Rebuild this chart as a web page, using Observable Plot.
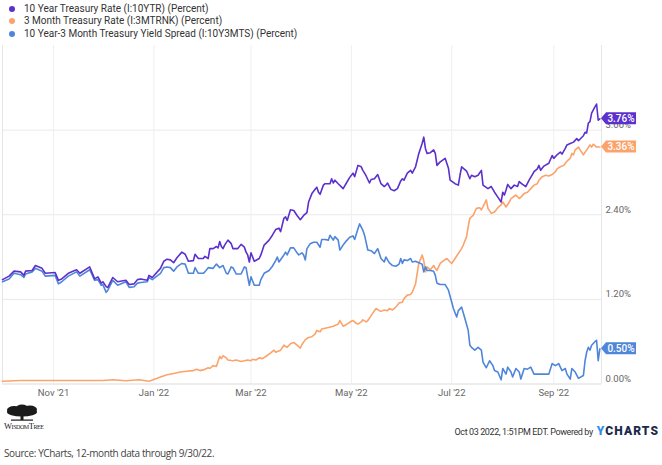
<!DOCTYPE html>
<html><head><meta charset="utf-8">
<script src="https://cdn.jsdelivr.net/npm/d3@7"></script>
<script src="https://cdn.jsdelivr.net/npm/@observablehq/plot@0.6"></script>
<style>
html,body{margin:0;padding:0;background:#fff;}
#wrap{position:relative;width:662px;height:465px;overflow:hidden;font-family:Roboto,sans-serif;}
#chart{position:absolute;left:0;top:0;}
#legend{position:absolute;left:0;top:0;}
.li{position:absolute;left:24px;font-size:10px;color:#333;white-space:nowrap;line-height:12px;}
.ld{position:absolute;left:9px;width:6px;height:6px;border-radius:50%;}
#stamp{position:absolute;right:3px;top:420px;white-space:nowrap;font-family:Roboto,sans-serif;color:#333;}
#stamp i{font-style:normal;font-size:9px;letter-spacing:-0.4px;}
#stamp b{font-family:Roboto,sans-serif;font-size:12px;letter-spacing:1.1px;color:#1c2a4a;font-weight:900;}
#stamp b span{color:#2e8cf0;}
#source{position:absolute;left:4px;top:446px;font-size:10px;color:#444;white-space:nowrap;font-family:'Open Sans',sans-serif;letter-spacing:-0.4px;}
#logo{position:absolute;left:3px;top:404px;}
</style></head><body>
<div id="wrap">
  <div id="chart"></div>
  <div id="legend"></div>
  <div id="logo"><svg width="46" height="28">
    <ellipse cx="19" cy="8" rx="15" ry="4.5" fill="#1b1b1b"/>
    <ellipse cx="11" cy="6" rx="7" ry="4" fill="#1b1b1b"/>
    <ellipse cx="27" cy="5.5" rx="7" ry="4" fill="#1b1b1b"/>
    <ellipse cx="19" cy="4" rx="6" ry="3.5" fill="#1b1b1b"/>
    <rect x="17.5" y="9" width="3" height="7" fill="#1b1b1b"/>
    <rect x="8" y="15.5" width="22" height="1.2" fill="#1b1b1b"/>
    <text x="1" y="25" font-family="'Liberation Serif',serif" font-size="8.5" fill="#222" textLength="40" style="font-variant:small-caps">WisdomTree</text>
  </svg></div>
  <div id="stamp"><i>Oct 03 2022, 1:51PM EDT. Powered by</i> <b><span>Y</span>CHARTS</b></div>
  <div id="source">Source: YCharts, 12-month data through 9/30/22.</div>
</div>
<script>
const seriesNames = ["10 Year Treasury Rate (I:10YTR) (Percent)", "3 Month Treasury Rate (I:3MTRNK) (Percent)", "10 Year-3 Month Treasury Yield Spread (I:10Y3MTS) (Percent)"];
const seriesColors = ["#5b30cc", "#fca36b", "#4f86da"];
const yTicks = [0, 1.2, 2.4, 3.6];
const xTicks = ["2021-11-01", "2022-01-01", "2022-03-01", "2022-05-01", "2022-07-01", "2022-09-01"];
const lastLabels = [3.76, 3.36, 0.50];

const tenYear = [["2021-10-01",1.48],["2021-10-05",1.53],["2021-10-08",1.60],["2021-10-12",1.59],["2021-10-14",1.54],["2021-10-15",1.60],["2021-10-19",1.61],["2021-10-21",1.68],["2021-10-25",1.64],["2021-10-27",1.57],["2021-11-02",1.58],["2021-11-04",1.47],["2021-11-06",1.49],["2021-11-10",1.57],["2021-11-15",1.62],["2021-11-17",1.57],["2021-11-23",1.66],["2021-11-26",1.49],["2021-11-28",1.52],["2021-11-30",1.43],["2021-12-01",1.45],["2021-12-03",1.38],["2021-12-04",1.37],["2021-12-07",1.51],["2021-12-10",1.45],["2021-12-15",1.47],["2021-12-17",1.41],["2021-12-20",1.42],["2021-12-22",1.48],["2021-12-24",1.49],["2021-12-28",1.47],["2021-12-29",1.54],["2021-12-31",1.51],["2022-01-05",1.64],["2022-01-07",1.74],["2022-01-09",1.77],["2022-01-11",1.76],["2022-01-13",1.72],["2022-01-15",1.79],["2022-01-18",1.87],["2022-01-20",1.84],["2022-01-22",1.74],["2022-01-25",1.75],["2022-01-26",1.84],["2022-01-28",1.78],["2022-01-31",1.78],["2022-02-01",1.81],["2022-02-03",1.78],["2022-02-04",1.92],["2022-02-06",1.92],["2022-02-08",1.95],["2022-02-09",1.93],["2022-02-10",2.02],["2022-02-11",1.95],["2022-02-12",1.92],["2022-02-13",1.97],["2022-02-15",2.04],["2022-02-17",1.99],["2022-02-18",1.92],["2022-02-21",1.92],["2022-02-23",1.98],["2022-02-25",1.94],["2022-02-26",1.87],["2022-02-27",1.83],["2022-02-28",1.73],["2022-03-01",1.86],["2022-03-03",1.74],["2022-03-06",1.78],["2022-03-07",1.83],["2022-03-09",1.97],["2022-03-12",2.04],["2022-03-14",2.11],["2022-03-16",2.19],["2022-03-18",2.21],["2022-03-19",2.16],["2022-03-21",2.35],["2022-03-22",2.37],["2022-03-23",2.32],["2022-03-25",2.47],["2022-03-27",2.46],["2022-03-29",2.39],["2022-03-31",2.33],["2022-04-02",2.39],["2022-04-04",2.43],["2022-04-05",2.58],["2022-04-07",2.70],["2022-04-09",2.76],["2022-04-10",2.79],["2022-04-11",2.72],["2022-04-12",2.69],["2022-04-14",2.82],["2022-04-15",2.84],["2022-04-18",2.84],["2022-04-19",2.91],["2022-04-20",2.85],["2022-04-21",2.89],["2022-04-23",2.84],["2022-04-26",2.77],["2022-04-28",2.85],["2022-04-30",2.93],["2022-05-02",2.99],["2022-05-03",2.94],["2022-05-05",3.10],["2022-05-07",3.08],["2022-05-08",3.03],["2022-05-10",2.95],["2022-05-12",2.85],["2022-05-13",2.90],["2022-05-15",2.91],["2022-05-17",2.97],["2022-05-19",2.84],["2022-05-21",2.80],["2022-05-22",2.82],["2022-05-23",2.85],["2022-05-25",2.76],["2022-05-27",2.74],["2022-05-29",2.77],["2022-05-31",2.88],["2022-06-01",2.91],["2022-06-02",2.89],["2022-06-04",2.99],["2022-06-06",3.03],["2022-06-07",2.99],["2022-06-09",3.08],["2022-06-11",3.27],["2022-06-13",3.41],["2022-06-14",3.50],["2022-06-15",3.34],["2022-06-16",3.27],["2022-06-18",3.28],["2022-06-20",3.32],["2022-06-21",3.27],["2022-06-22",3.10],["2022-06-24",3.15],["2022-06-27",3.20],["2022-06-29",3.06],["2022-06-30",2.89],["2022-07-03",2.84],["2022-07-05",2.82],["2022-07-06",2.96],["2022-07-07",3.08],["2022-07-10",3.02],["2022-07-12",2.91],["2022-07-13",2.96],["2022-07-15",2.94],["2022-07-17",2.96],["2022-07-19",3.03],["2022-07-20",2.82],["2022-07-23",2.77],["2022-07-25",2.80],["2022-07-27",2.72],["2022-07-29",2.65],["2022-07-31",2.58],["2022-08-01",2.72],["2022-08-02",2.68],["2022-08-03",2.75],["2022-08-04",2.83],["2022-08-06",2.77],["2022-08-08",2.82],["2022-08-10",2.80],["2022-08-11",2.87],["2022-08-13",2.83],["2022-08-15",2.80],["2022-08-17",2.89],["2022-08-19",2.97],["2022-08-20",3.01],["2022-08-22",3.05],["2022-08-23",3.10],["2022-08-24",3.03],["2022-08-26",3.09],["2022-08-29",3.13],["2022-08-31",3.24],["2022-09-01",3.20],["2022-09-03",3.25],["2022-09-05",3.29],["2022-09-06",3.26],["2022-09-08",3.34],["2022-09-09",3.39],["2022-09-11",3.41],["2022-09-13",3.43],["2022-09-15",3.48],["2022-09-16",3.45],["2022-09-19",3.52],["2022-09-20",3.57],["2022-09-21",3.56],["2022-09-22",3.70],["2022-09-23",3.72],["2022-09-24",3.84],["2022-09-26",3.93],["2022-09-27",3.97],["2022-09-28",3.74],["2022-09-29",3.76]];

const threeMonth = [["2021-10-01",0.04],["2021-10-12",0.05],["2021-10-22",0.05],["2021-11-03",0.05],["2021-11-15",0.05],["2021-11-24",0.05],["2021-12-01",0.05],["2021-12-07",0.06],["2021-12-15",0.045],["2021-12-23",0.06],["2021-12-29",0.04],["2022-01-03",0.08],["2022-01-05",0.10],["2022-01-09",0.13],["2022-01-13",0.15],["2022-01-17",0.17],["2022-01-21",0.18],["2022-01-25",0.19],["2022-01-27",0.21],["2022-01-29",0.19],["2022-01-31",0.20],["2022-02-03",0.23],["2022-02-04",0.22],["2022-02-06",0.26],["2022-02-08",0.25],["2022-02-10",0.39],["2022-02-11",0.36],["2022-02-12",0.40],["2022-02-14",0.37],["2022-02-15",0.34],["2022-02-18",0.33],["2022-02-20",0.34],["2022-02-23",0.32],["2022-02-25",0.33],["2022-02-27",0.34],["2022-03-01",0.33],["2022-03-02",0.35],["2022-03-04",0.34],["2022-03-06",0.37],["2022-03-08",0.36],["2022-03-10",0.39],["2022-03-13",0.44],["2022-03-15",0.48],["2022-03-16",0.45],["2022-03-19",0.48],["2022-03-21",0.55],["2022-03-23",0.52],["2022-03-25",0.57],["2022-03-27",0.59],["2022-03-29",0.55],["2022-03-31",0.51],["2022-04-01",0.56],["2022-04-03",0.63],["2022-04-05",0.66],["2022-04-07",0.67],["2022-04-09",0.71],["2022-04-10",0.76],["2022-04-12",0.74],["2022-04-13",0.78],["2022-04-17",0.80],["2022-04-20",0.82],["2022-04-23",0.85],["2022-04-24",0.90],["2022-04-26",0.82],["2022-04-27",0.83],["2022-04-29",0.86],["2022-05-01",0.89],["2022-05-02",0.90],["2022-05-04",0.86],["2022-05-05",0.85],["2022-05-07",0.88],["2022-05-08",0.91],["2022-05-10",0.88],["2022-05-11",0.90],["2022-05-13",0.97],["2022-05-15",1.04],["2022-05-16",1.07],["2022-05-18",1.04],["2022-05-19",1.03],["2022-05-21",1.05],["2022-05-23",1.04],["2022-05-24",1.07],["2022-05-26",1.05],["2022-05-28",1.09],["2022-05-30",1.15],["2022-06-01",1.16],["2022-06-02",1.21],["2022-06-04",1.26],["2022-06-06",1.27],["2022-06-07",1.30],["2022-06-09",1.42],["2022-06-10",1.57],["2022-06-11",1.71],["2022-06-13",1.83],["2022-06-14",1.75],["2022-06-15",1.59],["2022-06-16",1.66],["2022-06-18",1.62],["2022-06-20",1.68],["2022-06-21",1.64],["2022-06-22",1.61],["2022-06-24",1.71],["2022-06-26",1.75],["2022-06-28",1.78],["2022-06-30",1.73],["2022-07-01",1.71],["2022-07-03",1.78],["2022-07-05",1.85],["2022-07-07",1.92],["2022-07-08",1.97],["2022-07-10",2.09],["2022-07-11",2.23],["2022-07-12",2.35],["2022-07-14",2.39],["2022-07-16",2.49],["2022-07-18",2.50],["2022-07-19",2.47],["2022-07-21",2.56],["2022-07-22",2.61],["2022-07-23",2.49],["2022-07-25",2.42],["2022-07-27",2.44],["2022-07-29",2.50],["2022-07-31",2.54],["2022-08-01",2.58],["2022-08-03",2.51],["2022-08-05",2.58],["2022-08-06",2.63],["2022-08-09",2.68],["2022-08-11",2.63],["2022-08-12",2.65],["2022-08-14",2.70],["2022-08-16",2.72],["2022-08-18",2.77],["2022-08-20",2.82],["2022-08-22",2.84],["2022-08-23",2.89],["2022-08-25",2.94],["2022-08-27",2.96],["2022-08-29",2.95],["2022-08-31",2.97],["2022-09-02",3.01],["2022-09-03",3.05],["2022-09-05",3.08],["2022-09-07",3.10],["2022-09-09",3.16],["2022-09-11",3.20],["2022-09-12",3.27],["2022-09-13",3.25],["2022-09-14",3.32],["2022-09-16",3.36],["2022-09-17",3.32],["2022-09-19",3.25],["2022-09-21",3.32],["2022-09-23",3.39],["2022-09-24",3.36],["2022-09-25",3.40],["2022-09-27",3.36],["2022-09-29",3.36]];

const spread = [["2021-10-01",1.45],["2021-10-05",1.49],["2021-10-08",1.57],["2021-10-12",1.55],["2021-10-14",1.51],["2021-10-15",1.56],["2021-10-19",1.59],["2021-10-21",1.64],["2021-10-25",1.60],["2021-10-27",1.53],["2021-11-02",1.54],["2021-11-04",1.42],["2021-11-06",1.45],["2021-11-10",1.53],["2021-11-15",1.59],["2021-11-17",1.53],["2021-11-23",1.62],["2021-11-26",1.47],["2021-11-28",1.48],["2021-11-30",1.40],["2021-12-01",1.41],["2021-12-03",1.30],["2021-12-04",1.33],["2021-12-07",1.47],["2021-12-10",1.40],["2021-12-15",1.45],["2021-12-17",1.37],["2021-12-20",1.38],["2021-12-22",1.43],["2021-12-24",1.44],["2021-12-28",1.45],["2021-12-29",1.51],["2021-12-31",1.48],["2022-01-05",1.57],["2022-01-07",1.65],["2022-01-09",1.66],["2022-01-11",1.65],["2022-01-13",1.60],["2022-01-15",1.66],["2022-01-18",1.71],["2022-01-20",1.70],["2022-01-22",1.57],["2022-01-25",1.57],["2022-01-26",1.65],["2022-01-28",1.57],["2022-01-31",1.57],["2022-02-01",1.59],["2022-02-03",1.65],["2022-02-06",1.64],["2022-02-08",1.70],["2022-02-10",1.65],["2022-02-12",1.68],["2022-02-14",1.57],["2022-02-15",1.56],["2022-02-17",1.66],["2022-02-18",1.65],["2022-02-20",1.56],["2022-02-23",1.56],["2022-02-25",1.66],["2022-02-26",1.65],["2022-02-27",1.52],["2022-02-28",1.40],["2022-03-01",1.52],["2022-03-03",1.40],["2022-03-06",1.40],["2022-03-07",1.48],["2022-03-09",1.57],["2022-03-12",1.61],["2022-03-14",1.67],["2022-03-16",1.75],["2022-03-17",1.80],["2022-03-18",1.73],["2022-03-21",1.83],["2022-03-22",1.87],["2022-03-23",1.83],["2022-03-25",1.93],["2022-03-27",1.93],["2022-03-29",1.86],["2022-03-30",1.83],["2022-04-01",1.86],["2022-04-02",1.83],["2022-04-03",1.76],["2022-04-04",1.92],["2022-04-06",1.99],["2022-04-08",2.01],["2022-04-10",2.01],["2022-04-12",1.94],["2022-04-13",2.05],["2022-04-15",2.05],["2022-04-17",2.04],["2022-04-18",2.11],["2022-04-20",2.04],["2022-04-21",2.09],["2022-04-23",2.04],["2022-04-24",1.90],["2022-04-26",1.97],["2022-04-28",2.03],["2022-04-30",2.08],["2022-05-02",2.10],["2022-05-03",2.05],["2022-05-05",2.20],["2022-05-06",2.27],["2022-05-08",2.18],["2022-05-09",2.11],["2022-05-11",1.90],["2022-05-13",1.89],["2022-05-15",1.85],["2022-05-17",1.92],["2022-05-19",1.78],["2022-05-21",1.73],["2022-05-22",1.80],["2022-05-24",1.72],["2022-05-26",1.68],["2022-05-28",1.67],["2022-05-30",1.70],["2022-05-31",1.78],["2022-06-01",1.71],["2022-06-02",1.76],["2022-06-04",1.75],["2022-06-06",1.78],["2022-06-07",1.73],["2022-06-09",1.74],["2022-06-11",1.72],["2022-06-13",1.70],["2022-06-14",1.59],["2022-06-15",1.66],["2022-06-16",1.61],["2022-06-18",1.61],["2022-06-20",1.60],["2022-06-21",1.54],["2022-06-22",1.43],["2022-06-24",1.41],["2022-06-27",1.41],["2022-06-29",1.33],["2022-07-01",1.16],["2022-07-02",1.07],["2022-07-04",0.95],["2022-07-05",1.04],["2022-07-07",1.09],["2022-07-09",0.93],["2022-07-11",0.76],["2022-07-12",0.55],["2022-07-13",0.52],["2022-07-15",0.48],["2022-07-17",0.52],["2022-07-19",0.48],["2022-07-20",0.31],["2022-07-22",0.23],["2022-07-24",0.33],["2022-07-26",0.26],["2022-07-27",0.19],["2022-07-29",0.17],["2022-07-31",0.06],["2022-08-01",0.22],["2022-08-03",0.14],["2022-08-04",0.24],["2022-08-06",0.17],["2022-08-07",0.10],["2022-08-09",0.22],["2022-08-11",0.17],["2022-08-12",0.07],["2022-08-14",0.22],["2022-08-16",0.21],["2022-08-18",0.24],["2022-08-20",0.14],["2022-08-23",0.14],["2022-08-27",0.14],["2022-08-29",0.14],["2022-08-31",0.29],["2022-09-02",0.26],["2022-09-04",0.29],["2022-09-06",0.19],["2022-09-08",0.22],["2022-09-09",0.14],["2022-09-11",0.07],["2022-09-12",0.22],["2022-09-14",0.17],["2022-09-16",0.08],["2022-09-19",0.12],["2022-09-20",0.33],["2022-09-21",0.45],["2022-09-22",0.52],["2022-09-23",0.48],["2022-09-24",0.55],["2022-09-26",0.60],["2022-09-27",0.62],["2022-09-28",0.33],["2022-09-29",0.50]];

const parse = d3.utcParse("%Y-%m-%d");
const rows = (arr, i) => arr.map(([d, v]) => ({date: parse(d), value: v, s: i}));

// legend
const legend = document.getElementById("legend");
const legendY = [3, 15, 28];
seriesNames.forEach((n, i) => {
  const dot = document.createElement("div");
  dot.className = "ld"; dot.style.top = (legendY[i] + 3) + "px"; dot.style.background = seriesColors[i];
  const t = document.createElement("div");
  t.className = "li"; t.style.top = legendY[i] + "px"; t.textContent = n;
  legend.appendChild(dot); legend.appendChild(t);
});

const xDomain = [parse("2021-10-01"), parse("2022-09-30")];
const chart = Plot.plot({
  width: 662, height: 465,
  marginLeft: 2, marginRight: 61, marginTop: 45, marginBottom: 81.5,
  style: {fontFamily: "Roboto, sans-serif", fontSize: "9.5px", color: "#666", background: "transparent", overflow: "visible"},
  x: {type: "utc", domain: xDomain},
  y: {domain: [0, 4.8], label: null},
  marks: [
    Plot.gridY(yTicks, {stroke: "#e9e9e9", strokeOpacity: 1}),
    Plot.gridX(xTicks.map(parse), {stroke: "#efefef", strokeOpacity: 1}),
    Plot.ruleX(xDomain, {stroke: "#e6e6e6"}),
    Plot.ruleY([0], {stroke: "#e6e6e6"}),
    Plot.axisY(yTicks, {anchor: "right", tickSize: 0, tickPadding: 4, dy: -5, label: null, tickFormat: d => d.toFixed(2) + "%", fill: "#666"}),
    Plot.axisX(xTicks.map(parse), {anchor: "bottom", tickSize: 0, tickPadding: 5, label: null, tickFormat: d3.utcFormat("%b '%y"), fill: "#666"}),
    Plot.lineY(rows(threeMonth, 1), {x: "date", y: "value", stroke: seriesColors[1], strokeWidth: 1.6}),
    Plot.lineY(rows(spread, 2), {x: "date", y: "value", stroke: seriesColors[2], strokeWidth: 1.6}),
    Plot.lineY(rows(tenYear, 0), {x: "date", y: "value", stroke: seriesColors[0], strokeWidth: 1.6})
  ]
});
document.getElementById("chart").appendChild(chart);

// value tags at the right edge, positioned through the chart's scales
const xs = chart.scale("x"), ys = chart.scale("y");
const svg = d3.select(chart);
const x0 = xs.range[1];
lastLabels.forEach((v, i) => {
  const y = ys.apply(v);
  const g = svg.append("g");
  g.append("path")
    .attr("d", `M${x0},${y} L${x0 + 5},${y - 6} L${x0 + 35},${y - 6} L${x0 + 35},${y + 6} L${x0 + 5},${y + 6} Z`)
    .attr("fill", seriesColors[i]);
  g.append("text").attr("x", x0 + 20).attr("y", y).attr("dy", "0.35em")
    .attr("text-anchor", "middle").attr("fill", "#fff")
    .attr("font-family", "Roboto, sans-serif").attr("font-size", 10).attr("font-weight", 500)
    .text(v.toFixed(2) + "%");
});
</script>
</body></html>
